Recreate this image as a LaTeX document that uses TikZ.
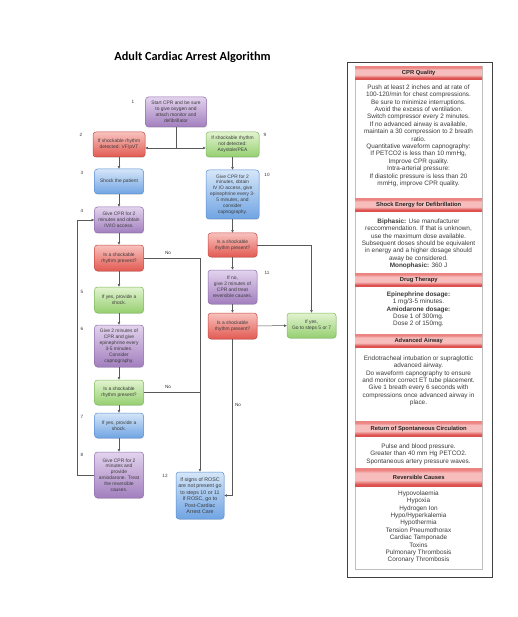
\documentclass[tikz,border=0pt]{standalone}
\usepackage{fontspec}
\setmainfont{Liberation Sans}
\newfontfamily\titlefont{Carlito}
\usetikzlibrary{arrows.meta,shadows}
\definecolor{purT}{HTML}{E3D3EE}
\definecolor{purB}{HTML}{A27FBE}
\definecolor{purD}{HTML}{9070AC}
\definecolor{redT}{HTML}{F8C2BE}
\definecolor{redB}{HTML}{E25A52}
\definecolor{redD}{HTML}{C84A43}
\definecolor{grnT}{HTML}{E2F3D0}
\definecolor{grnB}{HTML}{95CF70}
\definecolor{grnD}{HTML}{80BA5E}
\definecolor{bluT}{HTML}{D5E6F8}
\definecolor{bluB}{HTML}{70A4E3}
\definecolor{bluD}{HTML}{5C8FD2}
\definecolor{hdrT}{HTML}{EC8482}
\definecolor{hdrM}{HTML}{F6BDBC}
\definecolor{hdrB}{HTML}{DD5250}
\definecolor{txt}{HTML}{3C3C3C}
\pgfdeclareverticalshading{hdrshade}{100bp}{color(0bp)=(hdrB); color(30bp)=(hdrB); color(42bp)=(hdrM); color(62bp)=(hdrM); color(70bp)=(hdrT); color(100bp)=(hdrT)}
\tikzset{
  fbox/.style={rounded corners=3pt, draw, line width=0.5pt, align=center, inner sep=0.5pt,
    font=\fontsize{4.9}{5.9}\selectfont, text=txt, minimum width=49pt,
    drop shadow={opacity=0.2, shadow xshift=0.7pt, shadow yshift=-0.8pt}},
  purp/.style={fbox, top color=purT, bottom color=purB, draw=purD},
  redn/.style={fbox, top color=redT, bottom color=redB, draw=redD},
  grnn/.style={fbox, top color=grnT, bottom color=grnB, draw=grnD},
  blun/.style={fbox, top color=bluT, bottom color=bluB, draw=bluD},
  conn/.style={draw=black!65, line width=0.5pt},
  arr/.style={conn, -{Triangle[length=2.6pt,width=2.4pt]}},
  num/.style={font=\fontsize{4.6}{5}\selectfont, text=black!80, inner sep=0pt},
  nolab/.style={font=\fontsize{4.6}{5}\selectfont, text=black!80, inner sep=0pt},
  hdr/.style={shading=hdrshade, minimum width=127pt, minimum height=13pt, inner sep=0pt,
    font=\fontsize{5.8}{6}\selectfont\bfseries, text=black!85},
  ptxt/.style={font=\fontsize{6.4}{7.4}\selectfont, align=center, text=txt, inner sep=0pt, anchor=north},
}
\begin{document}
\begin{tikzpicture}[x=1pt,y=-1pt]
\useasboundingbox[fill=white] (0,0) rectangle (518,617);
% title
\node[font=\titlefont\fontsize{12.3}{14}\selectfont\bfseries, inner sep=0pt] (title) at (192.5,57.5) {Adult Cardiac Arrest Algorithm};
% flowchart nodes
\node[purp, minimum width=61pt, minimum height=30pt] (n1) at (176,112) {Start CPR and be sure\\to give oxygen and\\attach monitor and\\defibrillator};
\node[redn, minimum width=52pt, minimum height=25pt] (n2) at (119,144.5) {If shockable rhythm\\detected: VF/pVT};
\node[grnn, minimum width=53pt, minimum height=25pt] (n9) at (232.5,144.5) {If shockable rhythm\\not detected:\\Asystole/PEA};
\node[blun, minimum height=25pt] (n3) at (119,181.5) {Shock the patient};
\node[blun, minimum width=53pt, minimum height=49pt] (n10) at (232.5,194.5) {Give CPR for 2\\minutes, obtain\\IV IO access, give\\epinephrine every 3-\\5 minutes, and\\consider\\capnography.};
\node[purp, minimum height=26pt] (n4) at (119,220) {Give CPR for 2\\minutes and obtain\\IV/IO access.};
\node[redn, minimum height=26pt] (q1) at (119,258) {Is a shockable\\rhythm present?};
\node[grnn, minimum height=26pt] (n5) at (119,300) {If yes, provide a\\shock.};
\node[purp, minimum height=42pt] (n6) at (119,346) {Give 2 minutes of\\CPR and give\\epinephrine every\\3-5 minutes.\\Consider\\capnography.};
\node[grnn, minimum height=25pt] (q2) at (119,392.5) {Is a shockable\\rhythm present?};
\node[blun, minimum height=25pt] (n7) at (119,425.5) {If yes, provide a\\shock.};
\node[purp, minimum height=46pt] (n8) at (119,475) {Give CPR for 2\\minutes and\\provide\\amiodarone. Treat\\the reversible\\causes.};
\node[blun, minimum width=48pt, minimum height=47pt, font=\fontsize{5.3}{6.4}\selectfont] (n12) at (200,495.5) {If signs of ROSC\\are not present go\\to steps 10 or 11\\If ROSC, go to\\Post-Cardiac\\Arrest Care};
\node[redn, minimum height=24pt] (q3) at (232.5,245) {Is a shockable\\rhythm present?};
\node[purp, minimum height=34pt] (n11) at (232.5,287) {If no,\\give 2 minutes of\\CPR and treat\\reversible causes.};
\node[redn, minimum height=26pt] (q4) at (232.5,326) {Is a shockable\\rhythm present?};
\node[grnn, minimum height=25pt] (ny) at (311.5,325.5) {If yes,\\Go to steps 5 or 7};
% numbers
\node[num] (l1) at (133,102) {1};
\node[num] (l2) at (81,135) {2};
\node[num] (l9) at (265,135) {9};
\node[num] (l3) at (82,173) {3};
\node[num] (l10) at (267,175) {10};
\node[num] (l4) at (82,211) {4};
\node[num] (l5) at (82,292) {5};
\node[num] (l6) at (82,329) {6};
\node[num] (l11) at (267,273) {11};
\node[num] (l7) at (82,417) {7};
\node[num] (l8) at (82,455) {8};
\node[num] (l12) at (165,476) {12};
% connectors
\coordinate (j1) at (176,148);
\coordinate (cL) at (77,0);
\draw[conn] (n1) -- (j1);
\draw[arr] (j1) -- (j1 -| n2.east);
\draw[arr] (j1) -- (j1 -| n9.west);
\draw[arr] (n2) -- (n3);
\draw[arr] (n3) -- (n4);
\draw[arr] (n4) -- (q1);
\draw[arr] (q1) -- (n5);
\draw[arr] (n5) -- (n6);
\draw[arr] (n6) -- (q2);
\draw[arr] (q2) -- (n7);
\draw[arr] (n7) -- (n8);
\draw[arr] (n8.west) -- (n8.west -| cL) -- (n4.west -| cL) -- (n4.west);
\draw[arr] (q1.east) -| (n12.north);
\draw[conn] (q2.east) -- (q2.east -| n12.north);
\node[nolab] (no1) at (168,253) {No};
\node[nolab] (no2) at (168,387) {No};
\draw[arr] (n9) -- (n10);
\draw[arr] (n10) -- (q3);
\draw[arr] (q3) -- (n11);
\draw[arr] (n11) -- (q4);
\draw[arr] (q4) -- (ny);
\draw[arr] (q3.east) -| (ny.north);
\draw[arr] (q4.south) |- (n12.east);
\node[nolab] (no3) at (238,405) {No};
% side panel
\draw[black!75, line width=0.8pt] (347,62) rectangle (492,577);
\draw[black!25, line width=0.5pt] (355,66) -- (355,569) -- (482,569) -- (482,66);
\node[hdr, anchor=north west] (h1) at (355,66) {CPR Quality};
\node[ptxt] (t1) at (418.5,84.5) {Push at least 2 inches and at rate of\\100-120/min for chest compressions.\\Be sure to minimize interruptions.\\Avoid the excess of ventilation.\\Switch compressor every 2 minutes.\\If no advanced airway is available,\\maintain a 30 compression to 2 breath\\ratio.\\Quantitative waveform capnography:\\If PETCO2 is less than 10 mmHg,\\Improve CPR quality.\\Intra-arterial pressure:\\If diastolic pressure is less than 20\\mmHg, improve CPR quality.};
\node[hdr, anchor=north west] (h2) at (355,198) {Shock Energy for Defibrillation};
\node[ptxt] (t2) at (418.5,218.5) {\textbf{Biphasic:} Use manufacturer\\reccommendation. If that is unknown,\\use the maximum dose available.\\Subsequent doses should be equivalent\\in energy and a higher dosage should\\away be considered.\\\textbf{Monophasic:} 360 J};
\node[hdr, anchor=north west] (h3) at (355,273) {Drug Therapy};
\node[ptxt] (t3) at (418.5,291.5) {\textbf{Epinephrine dosage:}\\1 mg/3-5 minutes.\\\textbf{Amiodarone dosage:}\\Dose 1 of 300mg.\\Dose 2 of 150mg.};
\node[hdr, anchor=north west] (h4) at (355,334) {Advanced Airway};
\node[ptxt] (t4) at (418.5,355.5) {Endotracheal intubation or supraglottic\\advanced airway.\\Do waveform capnography to ensure\\and monitor correct ET tube placement.\\Give 1 breath every 6 seconds with\\compressions once advanced airway in\\place.};
\node[hdr, anchor=north west, minimum height=15pt] (h5) at (355,421) {Return of Spontaneous Circulation};
\node[ptxt] (t5) at (418.5,443.5) {Pulse and blood pressure.\\Greater than 40 mm Hg PETCO2.\\Spontaneous artery pressure waves.};
\node[hdr, anchor=north west, minimum height=18pt] (h6) at (355,468) {Reversible Causes};
\node[ptxt] (t6) at (418.5,490.5) {Hypovolaemia\\Hypoxia\\Hydrogen Ion\\Hypo/Hyperkalemia\\Hypothermia\\Tension Pneumothorax\\Cardiac Tamponade\\Toxins\\Pulmonary Thrombosis\\Coronary Thrombosis};
\end{tikzpicture}
\end{document}
